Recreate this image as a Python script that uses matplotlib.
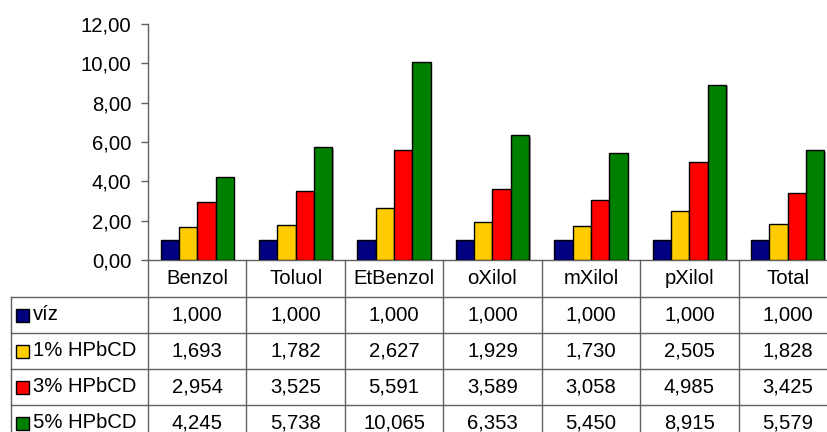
import matplotlib
matplotlib.use('Agg')
import matplotlib.pyplot as plt
import numpy as np
from matplotlib.transforms import blended_transform_factory
from matplotlib.patches import Rectangle
import matplotlib.patheffects as pe

categories = ['Benzol', 'Toluol', 'EtBenzol', 'oXilol', 'mXilol', 'pXilol', 'Total']
series_names = ['víz', '1% HPbCD', '3% HPbCD', '5% HPbCD']
viz = [1.000, 1.000, 1.000, 1.000, 1.000, 1.000, 1.000]
hp1 = [1.693, 1.782, 2.627, 1.929, 1.730, 2.505, 1.828]
hp3 = [2.954, 3.525, 5.591, 3.589, 3.058, 4.985, 3.425]
hp5 = [4.245, 5.738, 10.065, 6.353, 5.450, 8.915, 5.579]
series = [viz, hp1, hp3, hp5]
colors = ['#000080', '#FFCC00', '#FF0000', '#008000']
yticks = [0, 2, 4, 6, 8, 10, 12]

plt.rcParams['font.family'] = ['Liberation Sans', 'DejaVu Sans']
FS = 14.6
LINE = '#606060'

W, H = 827, 432
fig = plt.figure(figsize=(W / 100, H / 100), dpi=100)


def fx(px):
    return px / W


def fy(py):
    return 1 - py / H


# plot area (right side runs past the canvas edge)
left, right, top, bottom = 148, 837, 24, 260
ax = fig.add_axes([fx(left), fy(bottom), (right - left) / W, (bottom - top) / H])
cat_px = (right - left) / len(categories)

n = len(series)
w = 0.186
x = np.arange(len(categories))
shadow = [pe.SimplePatchShadow(offset=(1.2, -1.2), shadow_rgbFace='#909090', alpha=0.8), pe.Normal()]
for i, (vals, c) in enumerate(zip(series, colors)):
    ax.bar(x + (i - (n - 1) / 2) * w, vals, width=w, color=c, edgecolor='black',
           linewidth=1.0, path_effects=shadow, zorder=3)

ax.set_xlim(-0.5, len(categories) - 0.5)
ax.set_ylim(0, 12)
ax.set_yticks(yticks)
ax.set_yticklabels([f"{v:.2f}".replace('.', ',') for v in yticks], fontsize=FS)
ax.tick_params(axis='y', direction='out', length=5, width=1, color=LINE, pad=7)
ax.set_xticks([])
for s in ('top', 'right'):
    ax.spines[s].set_visible(False)
ax.spines['left'].set_color(LINE)
ax.spines['bottom'].set_color(LINE)
ax.spines['left'].set_linewidth(1)
ax.spines['bottom'].set_linewidth(1)

# data table below the plot
tr = blended_transform_factory(ax.transData, fig.transFigure)
rows = [260, 297, 333, 369, 405, 441]
label_left = -0.5 - (left - 11) / cat_px
xmax = len(categories) - 0.5

for k in range(len(categories) + 1):
    ax.plot([k - 0.5, k - 0.5], [fy(rows[0]), fy(rows[-1])], transform=tr,
            color=LINE, lw=1, clip_on=False)
ax.plot([label_left, label_left], [fy(rows[1]), fy(rows[-1])], transform=tr,
        color=LINE, lw=1, clip_on=False)
for r in rows[1:-1]:
    ax.plot([label_left, xmax], [fy(r), fy(r)], transform=tr, color=LINE, lw=1, clip_on=False)

for j, cat in enumerate(categories):
    ax.text(j, fy((rows[0] + rows[1]) / 2), cat, transform=tr, ha='center', va='center',
            fontsize=FS)

for i, (name, vals, c) in enumerate(zip(series_names, series, colors)):
    yc = (rows[i + 1] + rows[i + 2]) / 2
    for j, v in enumerate(vals):
        ax.text(j, fy(yc), f"{v:.3f}".replace('.', ','), transform=tr, ha='center',
                va='center', fontsize=FS)
    fig.add_artist(Rectangle((fx(16), fy(yc + 6.5)), 13 / W, 13 / H, transform=fig.transFigure,
                             facecolor=c, edgecolor='black', lw=1))
    fig.text(fx(33), fy(yc), name, ha='left', va='center', fontsize=FS)

fig.savefig('out.png', dpi=100)
